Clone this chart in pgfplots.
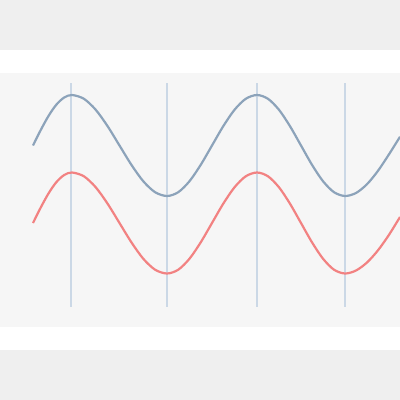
\documentclass[border=0pt]{standalone}
\usepackage{pgfplots}
\pgfplotsset{compat=1.18}
\definecolor{outerbg}{RGB}{239,239,239}
\definecolor{panelbg}{RGB}{246,246,246}
\definecolor{bluel}{RGB}{140,163,186}
\definecolor{redl}{RGB}{242,130,130}
\definecolor{vline}{RGB}{203,216,230}
\begin{document}
\begin{tikzpicture}
\begin{axis}[
  scale only axis, width=400pt, height=400pt,
  xmin=0, xmax=400, ymin=0, ymax=400, y dir=reverse,
  hide axis, clip=true]
\fill[outerbg] (axis cs:0,0) rectangle (axis cs:400,400);
\fill[white] (axis cs:0,50) rectangle (axis cs:400,350);
\fill[panelbg] (axis cs:0,73) rectangle (axis cs:400,327);
% vertical lines
\addplot[vline, line width=2pt] coordinates {(71,83) (71,307)};
\addplot[vline, line width=2pt] coordinates {(167,83) (167,307)};
\addplot[vline, line width=2pt] coordinates {(257,83) (257,307)};
\addplot[vline, line width=2pt] coordinates {(345,83) (345,307)};
% blue series
\addplot[bluel, line width=2.2pt, smooth] coordinates {
(33,145.5) (40.8,129.9) (48.6,115.8) (56.4,104.6) (64.2,97.5) (72,95.0)
(83.9,98.8) (95.75,109.8) (107.6,126.2) (119.5,145.5) (131.4,164.8) (143.25,181.2) (155.1,192.2) (167,196.0)
(178.25,192.2) (189.5,181.2) (200.75,164.8) (212,145.5) (223.25,126.2) (234.5,109.8) (245.75,98.8) (257,95.0)
(268,98.8) (279,109.8) (290,126.2) (301,145.5) (312,164.8) (323,181.2) (334,192.2) (345,196.0)
(356,193.0) (367,184.2) (378,170.8) (389,154.3) (400,136.8)};
% red series
\addplot[redl, line width=2.2pt, smooth] coordinates {
(33,223.0) (40.8,207.4) (48.6,193.3) (56.4,182.1) (64.2,175.0) (72,172.5)
(83.9,176.3) (95.75,187.3) (107.6,203.7) (119.5,223.0) (131.4,242.3) (143.25,258.7) (155.1,269.7) (167,273.5)
(178.25,269.7) (189.5,258.7) (200.75,242.3) (212,223.0) (223.25,203.7) (234.5,187.3) (245.75,176.3) (257,172.5)
(268,176.3) (279,187.3) (290,203.7) (301,223.0) (312,242.3) (323,258.7) (334,269.7) (345,273.5)
(356,270.5) (367,262.5) (378,250.3) (389,234.8) (400,217.0)};
\end{axis}
\end{tikzpicture}
\end{document}
